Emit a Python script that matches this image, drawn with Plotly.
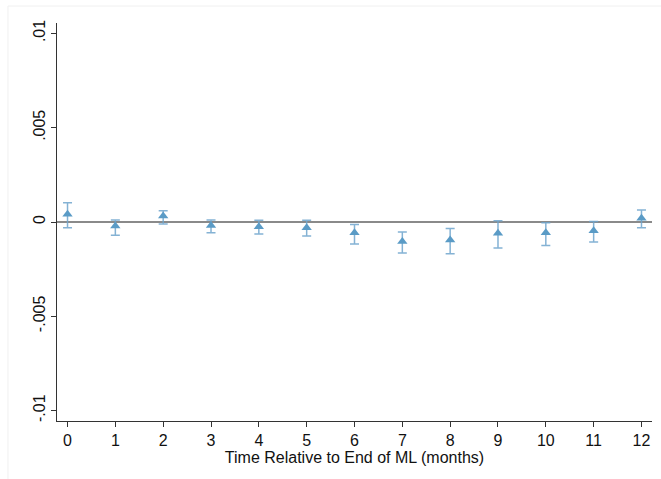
import plotly.graph_objects as go

months = [0, 1, 2, 3, 4, 5, 6, 7, 8, 9, 10, 11, 12]
estimate = [0.00041, -0.00021, 0.00032, -0.00018, -0.00025, -0.00030, -0.00057,
            -0.00104, -0.00095, -0.00060, -0.00057, -0.00046, 0.00020]
ci_upper = [0.00102, 0.00010, 0.00060, 0.00010, 0.00009, 0.00009, -0.00013,
            -0.00053, -0.00034, 0.00007, -0.00004, 0.00002, 0.00064]
ci_lower = [-0.00030, -0.00070, -0.00010, -0.00057, -0.00064, -0.00074, -0.00117,
            -0.00164, -0.00168, -0.00138, -0.00124, -0.00106, -0.00030]
y_ticks = [-0.01, -0.005, 0, 0.005, 0.01]
y_tick_labels = ["-.01", "-.005", "0", ".005", ".01"]

err_plus = [u - e for u, e in zip(ci_upper, estimate)]
err_minus = [e - l for e, l in zip(estimate, ci_lower)]

font = "Liberation Sans, Arial, Helvetica, sans-serif"

fig = go.Figure()
fig.add_trace(go.Scatter(
    x=months, y=estimate, mode="markers",
    marker=dict(symbol="triangle-up", size=9, color="#5a9bc6"),
    error_y=dict(type="data", symmetric=False, array=err_plus, arrayminus=err_minus,
                 color="rgba(110,165,205,0.85)", thickness=1.5, width=4.5),
    showlegend=False,
))

fig.update_layout(
    width=661, height=479,
    margin=dict(l=57, r=9, t=23, b=58),
    paper_bgcolor="white", plot_bgcolor="white",
    font=dict(family=font, size=16, color="#111"),
    xaxis=dict(
        range=[-0.22, 12.22], tickmode="array", tickvals=months,
        ticktext=[str(m) for m in months],
        showgrid=False, zeroline=False, showline=True, linecolor="#333", linewidth=1.2,
        ticks="outside", ticklen=5, tickcolor="#333", tickwidth=1.2,
        title=dict(text="Time Relative to End of ML (months)", standoff=3,
                   font=dict(size=16)),
    ),
    yaxis=dict(
        range=[-0.01055, 0.01055], tickmode="array", tickvals=y_ticks,
        ticktext=y_tick_labels, tickangle=-90,
        showgrid=False, zeroline=True, zerolinecolor="#8a8a8a", zerolinewidth=1.6,
        showline=True, linecolor="#333", linewidth=1.2,
        ticks="outside", ticklen=5, tickcolor="#333", tickwidth=1.2,
    ),
    shapes=[dict(type="rect", xref="paper", yref="paper",
                 x0=-0.0824, x1=1.2, y0=-0.5, y1=1.0427,
                 line=dict(color="#f0f0f0", width=1), layer="below")],
)

fig.write_html("out.html")
